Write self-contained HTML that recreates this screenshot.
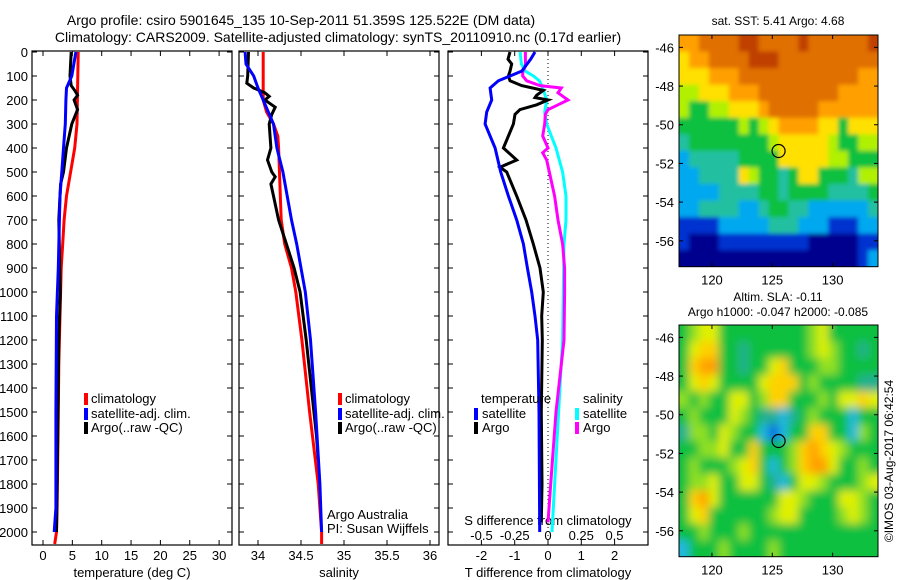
<!DOCTYPE html>
<html><head><meta charset="utf-8">
<style>
html,body{margin:0;padding:0;background:#fff;}
svg{display:block;font-family:"Liberation Sans",sans-serif;}
text{font-size:13px;fill:#000;}
</style></head>
<body>
<svg id="chart" width="900" height="580" viewBox="0 0 900 580" xmlns="http://www.w3.org/2000/svg">
<defs>
<filter id="blurS" x="-5%" y="-5%" width="110%" height="110%"><feGaussianBlur stdDeviation="2.2"/></filter>
<filter id="blurL" x="-5%" y="-5%" width="110%" height="110%"><feGaussianBlur stdDeviation="4.5"/></filter>
<clipPath id="clipTop"><rect x="679" y="35" width="199" height="231.7"/></clipPath>
<clipPath id="clipBot"><rect x="679" y="325" width="199" height="231.7"/></clipPath>
</defs>
<text x="301" y="25" text-anchor="middle" style="font-size:14px">Argo profile: csiro 5901645_135 10-Sep-2011 51.359S 125.522E (DM data)</text>
<text x="338" y="42" text-anchor="middle" style="font-size:14px">Climatology: CARS2009. Satellite-adjusted climatology: synTS_20110910.nc (0.17d earlier)</text>
<g id="g"></g>
</svg>
<script>
// ---------- data ----------
const tempClimDepth=[0,300,400,500,600,700,800,900,1000,1200,1300,1500,1700,1900,2000,2050];
const tempClimVal=[6.0,5.8,5.4,4.7,4.0,3.6,3.35,3.1,3.0,2.8,2.7,2.6,2.5,2.4,2.3,2.0];
const tempSatDepth=[0,100,150,200,300,400,500,600,700,900,1100,1500,1900,2000];
const tempSatVal=[5.6,4.9,4.0,3.9,3.8,3.5,3.2,2.9,2.8,2.6,2.3,2.2,2.2,1.9];
const tempArgoDepth=[0,100,140,160,180,200,240,300,400,450,500,550,700,1000,1200,1600,2000];
const tempArgoVal=[4.8,4.6,4.8,5.4,5.9,5.3,5.9,4.9,4.0,3.75,3.5,3.0,2.7,2.95,2.7,2.5,2.3];

const salClimDepth=[0,200,250,300,350,400,700,800,900,1000,1200,1500,1800,2000,2050];
const salClimVal=[34.06,34.06,34.10,34.18,34.23,34.24,34.27,34.31,34.39,34.44,34.51,34.60,34.70,34.74,34.74];
const salSatDepth=[0,50,100,150,200,250,300,400,500,600,700,800,900,1000,1200,1500,1800,2000];
const salSatVal=[33.85,33.86,33.95,34.0,34.06,34.12,34.18,34.22,34.29,34.34,34.39,34.45,34.50,34.55,34.61,34.67,34.72,34.74];
const salArgoDepth=[0,100,130,150,170,185,200,230,260,300,400,450,500,520,550,600,700,800,900,1000,1200,1600,1700];
const salArgoVal=[33.89,33.88,33.87,33.95,34.08,34.13,34.08,34.20,34.16,34.13,34.15,34.11,34.16,34.20,34.15,34.18,34.24,34.33,34.42,34.49,34.56,34.68,34.70];

const dTSatDepth=[0,30,80,100,120,150,200,250,300,350,400,500,600,700,800,900,1000,1100,1200,1500,2000];
const dTSatVal=[-0.39,-0.52,-0.79,-1.14,-1.49,-1.74,-1.69,-1.84,-1.89,-1.74,-1.59,-1.42,-1.19,-0.94,-0.74,-0.62,-0.49,-0.39,-0.31,-0.27,-0.25];
const dTArgoDepth=[0,30,50,80,100,120,140,160,180,190,200,220,240,260,300,350,400,450,480,500,600,700,800,900,1000,1100,1200,1500,1800,1960];
const dTArgoVal=[-1.14,-1.2,-1.09,-1.14,-1.19,-1.14,-0.79,-0.14,-0.34,-0.39,0.0,-0.34,-0.84,-0.99,-1.04,-1.19,-1.34,-0.94,-1.44,-1.24,-0.94,-0.66,-0.44,-0.24,-0.14,-0.19,-0.17,-0.2,-0.18,-0.2];
const dSArgoDepth=[0,60,80,100,120,140,150,170,200,220,240,260,300,350,400,420,450,500,600,700,800,900,1000,1200,1500,1800,1960];
const dSArgoVal=[-0.17,-0.17,-0.19,-0.19,-0.16,-0.06,0.10,0.075,0.15,0.075,0.0,-0.02,-0.025,-0.04,0.0,-0.04,-0.01,0.01,0.05,0.075,0.11,0.125,0.125,0.12,0.06,0.02,0.0];
const dSSatDepth=[0,50,80,100,120,150,200,250,300,350,400,500,600,700,800,1000,1200,1500,2000];
const dSSatVal=[-0.21,-0.2,-0.17,-0.11,-0.065,-0.04,-0.01,-0.025,-0.01,0.025,0.06,0.11,0.135,0.135,0.12,0.115,0.11,0.08,0.03];

const tempTicks=[0,5,10,15,20,25,30];
const salTicks=[34,34.5,35,35.5,36];
const dTTicks=[-2,-1,0,1,2];
const dSTicks=[-0.5,-0.25,0,0.25,0.5];
const depthTicks=[0,100,200,300,400,500,600,700,800,900,1000,1100,1200,1300,1400,1500,1600,1700,1800,1900,2000];

// SST map (levels 0-9), rows north->south
const sstRows=[
"77888899888898888889",
"67788889998888888888",
"66677788888888888877",
"55666777888888887777",
"54455666788888777777",
"44444454567777664666",
"34444444456666654455",
"23333344446666655444",
"22333365443466444355",
"22223333443444433334",
"22333322344332222223",
"11112222233322211122",
"10001111111110000011",
"00000000000000000012"];
const sstColors=["#00008f","#0030d0","#00a8f0","#20c0a0","#10c040","#b0f000","#ffe000","#ffa000","#e07000","#c04000"];
const slaRows=[
"34553333333334533333",
"35663323333334543323",
"36773323356333443333",
"35653333566634333322",
"43433553466333435565",
"34333543221234333133",
"24435433101336633143",
"33445336333467654333",
"34333456313467753343",
"34453355321355433345",
"36753333335543335543",
"35633333345533334543",
"33433343333333333333",
"13334333343333333333"];
const slaColors=["#0068e0","#20b8e0","#20b090","#10c040","#90e020","#e0f000","#ffd000","#ffa000"];
const latTicks=[-46,-48,-50,-52,-54,-56];
const lonTicks=[120,125,130];

// ---------- helpers ----------
const NS="http://www.w3.org/2000/svg";
const G=document.getElementById('g');
function mk(tag,attrs,parent){const e=document.createElementNS(NS,tag);for(const k in attrs)e.setAttribute(k,attrs[k]);(parent||G).appendChild(e);return e;}
const yTop=52, yPer=0.24, plotTop=51, plotBot=545;
const yD=d=>yTop+d*yPer;
const xT=v=>43+v*5.87;
const xS=v=>258+(v-34)*86;
const xDT=v=>548+v*33.3;
const xDS=v=>548+v*133;

function frame(x0,x1,name){
  const r=mk('rect',{x:x0,y:plotTop,width:x1-x0,height:plotBot-plotTop,fill:'none',stroke:'#000','stroke-width':1.2});
  
  
  depthTicks.forEach(d=>{
    mk('line',{x1:x0,x2:x0+5,y1:yD(d),y2:yD(d),stroke:'#000'});
    mk('line',{x1:x1,x2:x1-5,y1:yD(d),y2:yD(d),stroke:'#000'});
  });
}
function xticks(ticks,fx,name,labelY,withTop){
  ticks.forEach(t=>{
    const x=fx(t);
    mk('line',{x1:x,x2:x,y1:plotBot,y2:plotBot-5,stroke:'#000'});
    if(withTop) mk('line',{x1:x,x2:x,y1:plotTop,y2:plotTop+5,stroke:'#000'});
    const tx=mk('text',{x:x,y:labelY,'text-anchor':'middle'});
    tx.textContent=String(t);
    
    
  });
}
function series(depths,vals,fx,color,name){
  let pts=[];
  for(let i=0;i<depths.length;i++){pts.push(fx(vals[i]).toFixed(1)+','+yD(depths[i]).toFixed(1));}
  const p=mk('polyline',{points:pts.join(' '),fill:'none',stroke:color,'stroke-width':3,'stroke-linejoin':'miter'});
  
  
}
function label(x,y,txt,name,anchor,size){
  const t=mk('text',{x:x,y:y,'text-anchor':anchor||'start'});
  if(size)t.style.fontSize=size+'px';
  t.textContent=txt;
  
  
  return t;
}
function legendSwatch(x,y,color,name){
  const r=mk('rect',{x:x,y:y-10,width:4,height:12,fill:color});
  
  
}

// ---------- panel 1: temperature ----------
frame(32,232,'temperature-panel');
depthTicks.forEach(d=>{label(28,yD(d)+5,String(d),'depth-tick-label','end');});
xticks(tempTicks,xT,'temperature-tick-label',560,true);
label(132,577,'temperature (deg C)','temperature-axis-title','middle');
series(tempClimDepth,tempClimVal,xT,'#ff0000','temp-climatology-line');
series(tempArgoDepth,tempArgoVal,xT,'#000000','temp-argo-line');
series(tempSatDepth,tempSatVal,xT,'#0000ff','temp-satellite-line');
legendSwatch(84,403,'#ff0000','legend-climatology-swatch');label(91,403,'climatology','legend-climatology');
legendSwatch(84,418,'#0000ff','legend-satellite-swatch');label(91,418,'satellite-adj. clim.','legend-satellite');
legendSwatch(84,432,'#000000','legend-argo-swatch');label(91,432,'Argo(..raw -QC)','legend-argo');

// ---------- panel 2: salinity ----------
frame(239,439,'salinity-panel');
xticks(salTicks,xS,'salinity-tick-label',560,true);
label(339,577,'salinity','salinity-axis-title','middle');
series(salClimDepth,salClimVal,xS,'#ff0000','sal-climatology-line');
series(salArgoDepth,salArgoVal,xS,'#000000','sal-argo-line');
series(salSatDepth,salSatVal,xS,'#0000ff','sal-satellite-line');
legendSwatch(338,403,'#ff0000','legend2-climatology-swatch');label(345,403,'climatology','legend2-climatology');
legendSwatch(338,418,'#0000ff','legend2-satellite-swatch');label(345,418,'satellite-adj. clim.','legend2-satellite');
legendSwatch(338,432,'#000000','legend2-argo-swatch');label(345,432,'Argo(..raw -QC)','legend2-argo');
label(327,519,'Argo Australia','credit-argo-australia');
label(327,533,'PI: Susan Wijffels','credit-pi');

// ---------- panel 3: differences ----------
frame(448,648,'difference-panel');
mk('line',{x1:548,x2:548,y1:plotTop,y2:plotBot,stroke:'#000','stroke-dasharray':'1,3','stroke-width':1});
[-2,-1,0,1,2].forEach(t=>{mk('line',{x1:xDT(t),x2:xDT(t),y1:plotTop,y2:plotTop+5,stroke:'#000'});});
xticks(dTTicks,xDT,'t-diff-tick-label',560,false);
dSTicks.forEach(t=>{label(xDS(t),540,String(t),'s-diff-tick-label','middle');});
label(548,525,'S difference from climatology','s-diff-axis-title','middle');
label(548,577,'T difference from climatology','t-diff-axis-title','middle');
series(dSSatDepth,dSSatVal,xDS,'#00ffff','sdiff-satellite-line');
series(dSArgoDepth,dSArgoVal,xDS,'#ff00ff','sdiff-argo-line');
series(dTArgoDepth,dTArgoVal,xDT,'#000000','tdiff-argo-line');
series(dTSatDepth,dTSatVal,xDT,'#0000ff','tdiff-satellite-line');
label(481,403,'temperature','legend3-temperature-header');
label(583,403,'salinity','legend3-salinity-header');
legendSwatch(474,418,'#0000ff','legend3-tsat-swatch');label(482,418,'satellite','legend3-t-satellite');
legendSwatch(474,432,'#000000','legend3-targo-swatch');label(482,432,'Argo','legend3-t-argo');
legendSwatch(575,418,'#00ffff','legend3-ssat-swatch');label(583,418,'satellite','legend3-s-satellite');
legendSwatch(575,432,'#ff00ff','legend3-sargo-swatch');label(583,432,'Argo','legend3-s-argo');

// ---------- maps ----------
const lon0=117.27, lon1=133.76, lat0=-45.36, lat1=-57.34;
function drawMap(rows,colors,top,bot,name,clipId,filterId){
  const left=679,right=878;
  const fx=lon=>left+(lon-lon0)/(lon1-lon0)*(right-left);
  const fy=lat=>top+(lat-lat0)/(lat1-lat0)*(bot-top);
  const nr=rows.length,nc=rows[0].length;
  const cw=(right-left)/nc, ch=(bot-top)/nr;
  const outer=mk('g',{'clip-path':'url(#'+clipId+')'});
  
  
  const inner=mk('g',{filter:'url(#'+filterId+')'},outer);
  for(let r=-1;r<=nr;r++)for(let c=-1;c<=nc;c++){
    const rr=Math.min(nr-1,Math.max(0,r)), cc=Math.min(nc-1,Math.max(0,c));
    const v=+rows[rr][cc];
    const cell=mk('rect',{x:(left+c*cw).toFixed(2),y:(top+r*ch).toFixed(2),width:(cw+0.6).toFixed(2),height:(ch+0.6).toFixed(2),fill:colors[v]},inner);
    
    
  }
  const fr=mk('rect',{x:left,y:top,width:right-left,height:bot-top,fill:'none',stroke:'#000','stroke-width':1});
  
  
  latTicks.forEach(l=>{
    const y=fy(l);
    mk('line',{x1:left,x2:left+4,y1:y,y2:y,stroke:'#000'});
    mk('line',{x1:right,x2:right-4,y1:y,y2:y,stroke:'#000'});
    label(674,y+5,String(l),name+'-lat-label','end');
  });
  lonTicks.forEach(l=>{
    const x=fx(l);
    mk('line',{x1:x,x2:x,y1:bot,y2:bot-4,stroke:'#000'});
    mk('line',{x1:x,x2:x,y1:top,y2:top+4,stroke:'#000'});
    label(x,bot+18,String(l),name+'-lon-label','middle');
  });
  const c=mk('circle',{cx:fx(125.522),cy:fy(-51.359),r:6.5,fill:'none',stroke:'#000','stroke-width':1.2});
  
  
}
drawMap(sstRows,sstColors,35,266.7,'sst-map','clipTop','blurS');
drawMap(slaRows,slaColors,325,556.7,'sla-map','clipBot','blurL');
label(778,25,'sat. SST: 5.41 Argo: 4.68','sst-map-title','middle',12);
label(778,301,'Altim. SLA: -0.11','sla-map-title','middle',12);
label(778,316,'Argo h1000: -0.047 h2000: -0.085','sla-map-subtitle','middle',12);
const v=label(0,0,'©IMOS 03-Aug-2017 06:42:54','timestamp','middle',12);
v.setAttribute('transform','translate(893,461) rotate(-90)');
</script>
</body></html>
